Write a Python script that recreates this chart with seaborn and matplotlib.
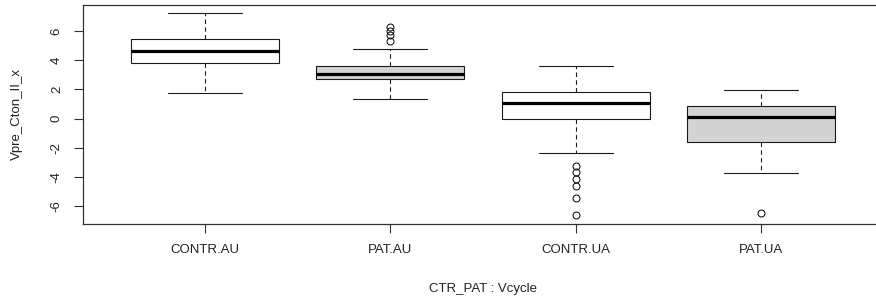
import numpy as np
import pandas as pd
import seaborn as sns
import matplotlib
matplotlib.use("Agg")
import matplotlib.pyplot as plt

# Summary values
groups = ["CONTR.AU", "PAT.AU", "CONTR.UA", "PAT.UA"]
whisker_low = [1.78, 1.33, -2.35, -3.72]
q1 = [3.79, 2.70, -0.02, -1.58]
median = [4.64, 3.06, 1.08, 0.10]
q3 = [5.46, 3.63, 1.85, 0.85]
whisker_high = [7.22, 4.79, 3.63, 1.99]
outliers = [
    [],
    [5.34, 5.72, 6.02, 6.30],
    [-3.22, -3.67, -4.15, -4.61, -5.43, -6.62],
    [-6.48],
]
box_colors = ["white", "lightgray", "white", "lightgray"]
yticks = [-6, -4, -2, 0, 2, 4, 6]

# Build observations reproducing those summary values
rows = []
for g, lo, a, m, b, hi, outs in zip(groups, whisker_low, q1, median, q3, whisker_high, outliers):
    vals = [lo] + [a] * 20 + [m] * 20 + [b] * 20 + [hi]
    lows = [o for o in outs if o < m]
    highs = [o for o in outs if o > m]
    vals = lows + vals + highs
    for v in vals:
        rows.append({"grp": g, "val": v})
df = pd.DataFrame(rows)

sns.set_style("white")
plt.rcParams["font.family"] = ["Liberation Sans", "DejaVu Sans"]

fig = plt.figure(figsize=(8.76, 3.01), dpi=100)
ax = fig.add_axes([83 / 876, 1 - 224 / 301, (883 - 83) / 876, (224 - 4.5) / 301])

edge = "#1a1a1a"
sns.boxplot(
    data=df, x="grp", y="val", hue="grp", order=groups, hue_order=groups,
    palette=dict(zip(groups, box_colors)), legend=False, width=0.8,
    linecolor=edge, linewidth=0.8, ax=ax, saturation=1,
    medianprops=dict(color="black", linewidth=2.3),
    whiskerprops=dict(linestyle=(0, (4, 3)), color=edge, linewidth=0.8),
    capprops=dict(color=edge, linewidth=0.8),
    flierprops=dict(marker="o", markerfacecolor="none", markeredgecolor="black",
                    markersize=5, markeredgewidth=0.7),
)

ax.set_xlim(-0.66, 3.66)
ax.set_ylim(-7.21, 7.82)
ax.set_yticks(yticks)
ax.set_yticklabels([str(t) for t in yticks], rotation=90, va="center")
for s in ax.spines.values():
    s.set_visible(True)
    s.set_color("#333333")
    s.set_linewidth(0.9)
ax.tick_params(axis="both", direction="out", length=6.5, width=0.8, color="#333333",
               labelsize=9.5, labelcolor="#222222", bottom=True, left=True)
ax.tick_params(axis="x", pad=8)
ax.tick_params(axis="y", pad=8)
ax.set_xlabel("CTR_PAT : Vcycle", fontsize=9.5, color="#222222", labelpad=19)
ax.set_ylabel("Vpre_Cton_II_x", fontsize=9.5, color="#222222", labelpad=20)
ax.grid(False)

fig.savefig("out.png", dpi=100)
